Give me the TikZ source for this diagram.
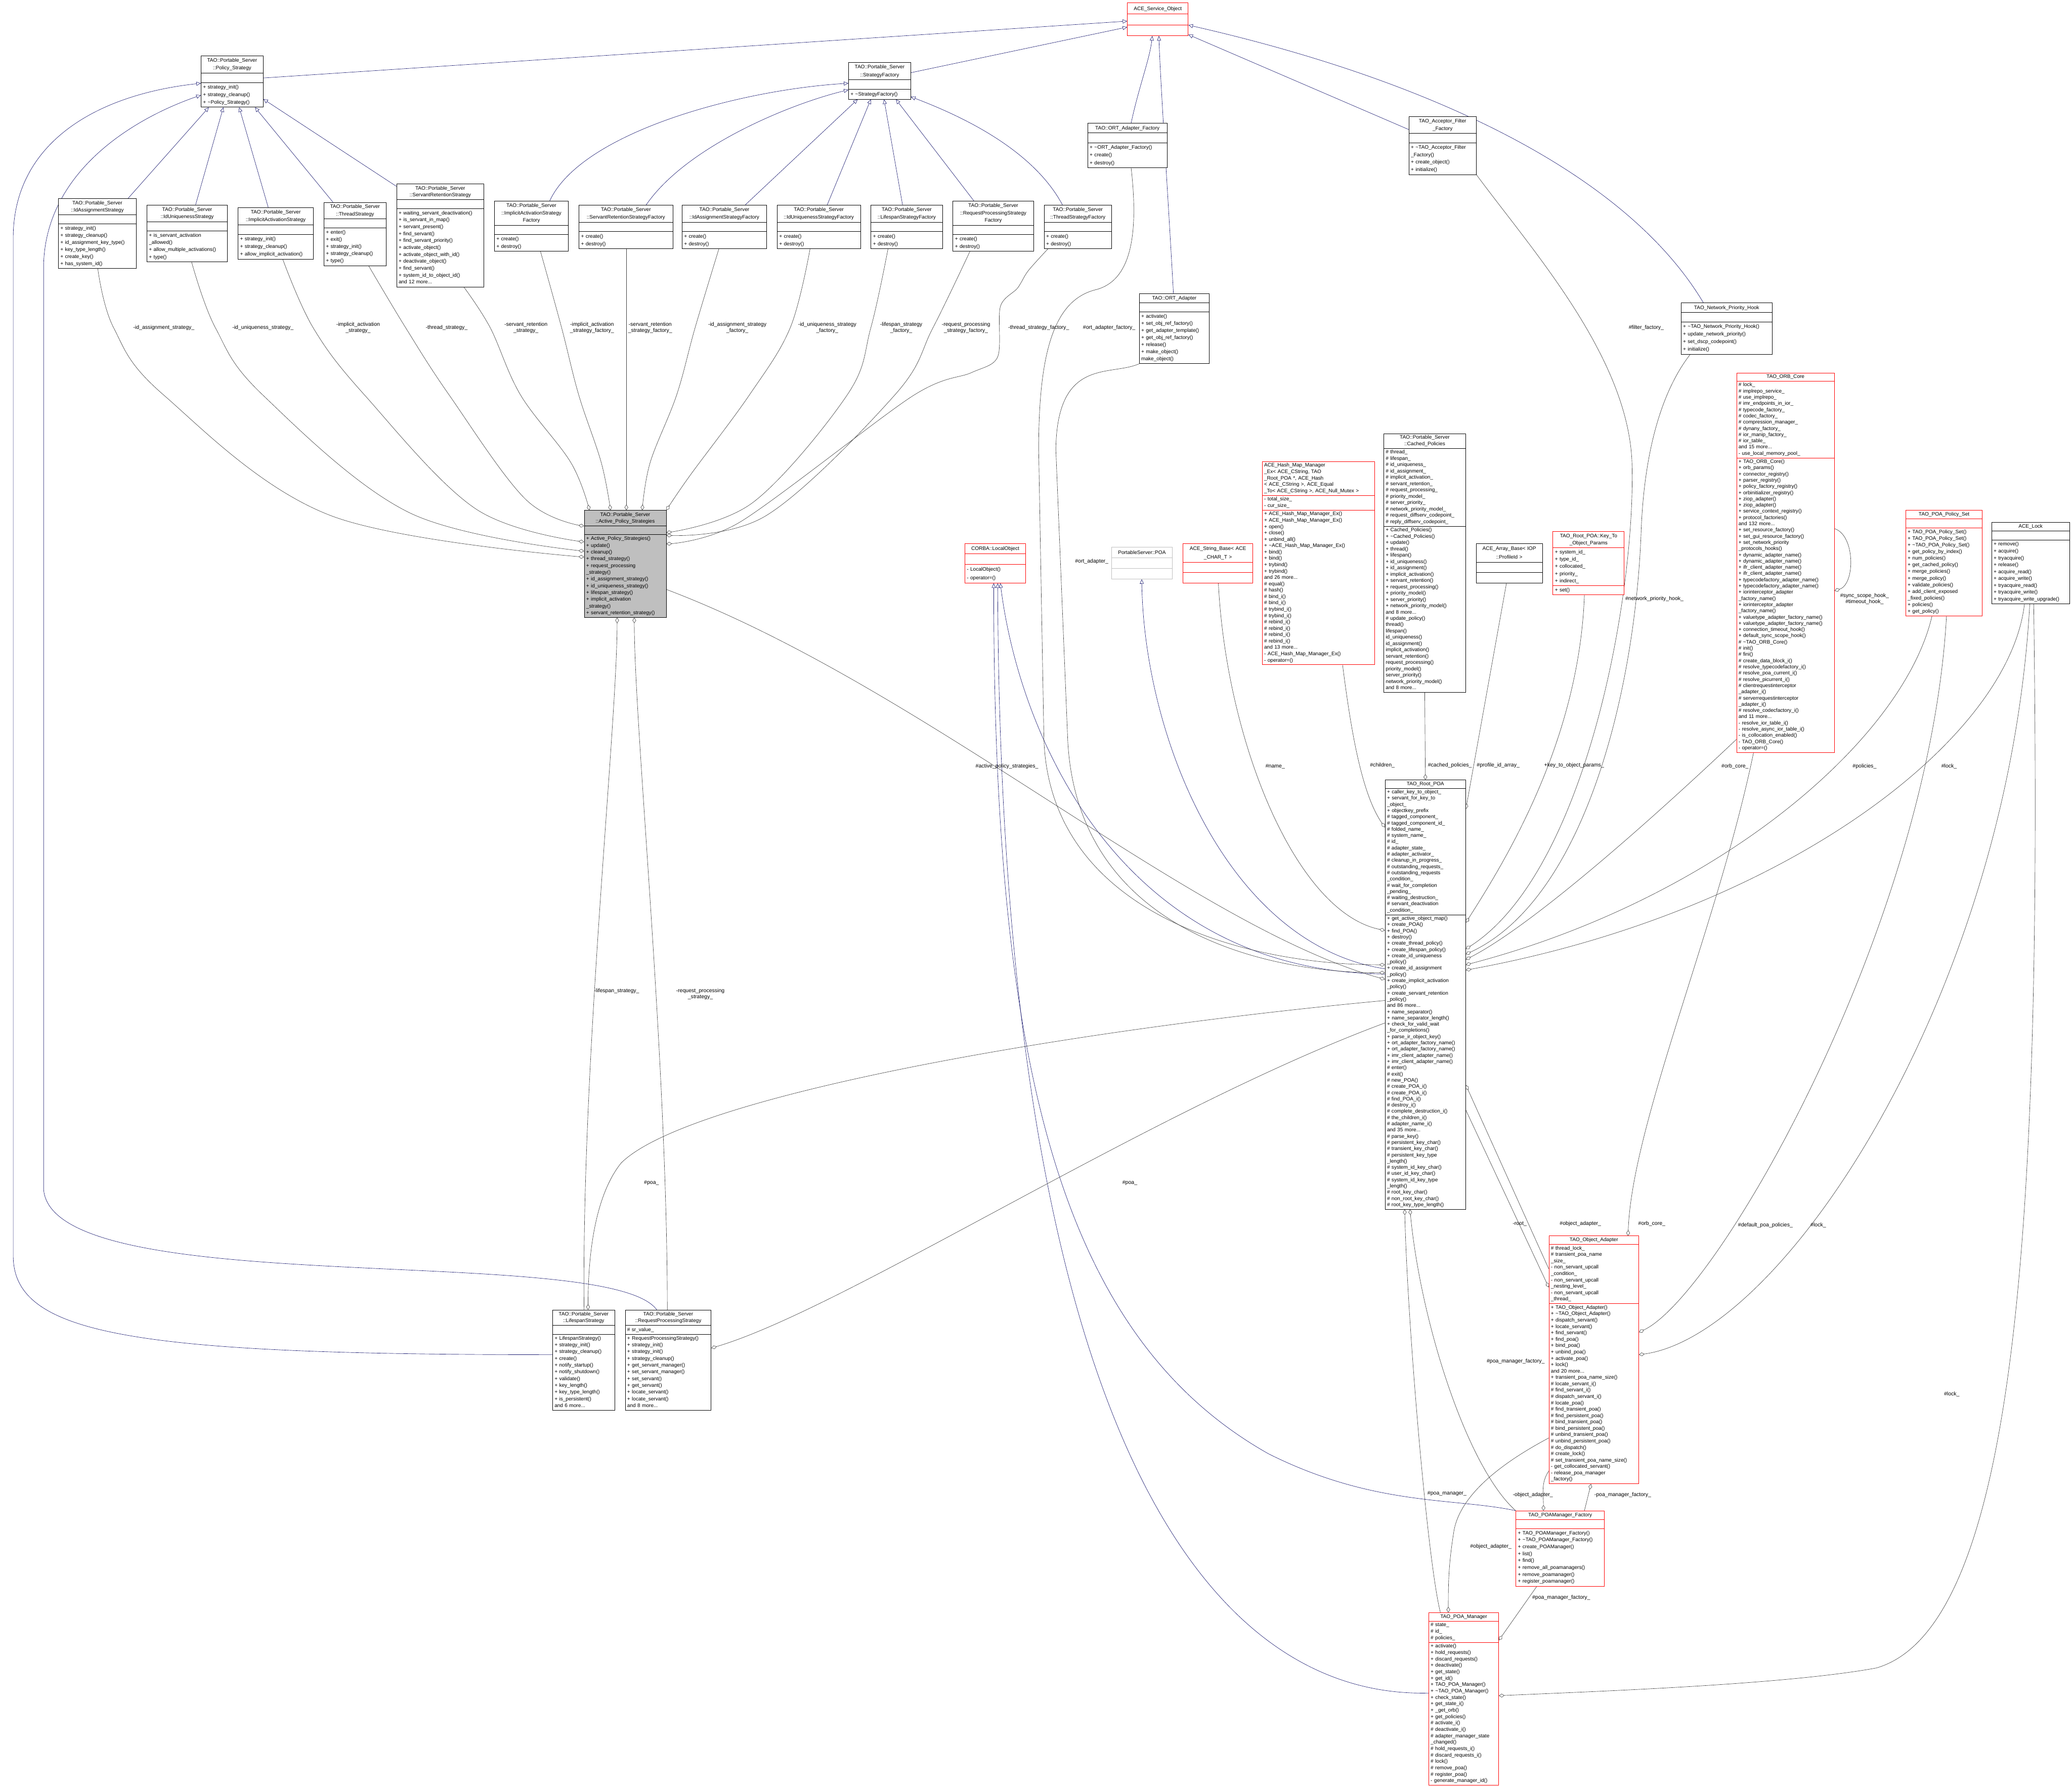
\documentclass[tikz,border=0pt]{standalone}
\usepackage{fontspec}
\setmainfont{Liberation Sans}
\usetikzlibrary{shapes.multipart,arrows.meta,calc,backgrounds}
\setlength{\parindent}{0pt}
\definecolor{inhc}{HTML}{191970}
\definecolor{aggc}{HTML}{404040}
\definecolor{grayfill}{HTML}{BFBFBF}
\tikzset{
  cls/.style={rectangle split, rectangle split parts=3, draw=black, line width=0.9pt,
    fill=white, anchor=north west, inner xsep=1.5mm, inner ysep=0.6mm, align=left},
  redcls/.style={cls, draw=red},
  greycls/.style={cls, draw=grayfill},
  selcls/.style={cls, fill=grayfill},
  inh/.style={draw=inhc, line width=0.7pt, -{Triangle[open,length=3.4mm,width=3mm]}},
  agg/.style={draw=aggc, line width=0.7pt, -{Diamond[open,length=4.2mm,width=2.8mm]}},
  lbl/.style={font={\fontsize{11.5}{13}\selectfont}, inner sep=0.5mm, align=center}
}
\newcommand\umlclass[8]{%
  \node[#1, text width=#4mm, font={\fontsize{11}{#5}\selectfont}] (#2) at (#3)
  {\parbox[t]{#4mm}{\centering\strut #6\strut}\nodepart{two}\strut #7\strut\nodepart{three}\strut #8\strut};}
\begin{document}
\begin{tikzpicture}[x=1mm,y=-1mm]
\useasboundingbox (0,0) rectangle (1568,1352);
% ---------------- nodes ----------------
\umlclass{redcls}{SO}{853,2}{43}{19.3}{ACE\_Service\_Object}{}{}
\umlclass{cls}{PS}{152,42}{44}{16.3}{TAO::Portable\_Server\\::Policy\_Strategy}{}{+ strategy\_init()\\+ strategy\_cleanup()\\+ \textasciitilde Policy\_Strategy()}
\umlclass{cls}{IdAS}{44,150}{56}{15.3}{TAO::Portable\_Server\\::IdAssignmentStrategy}{}{+ strategy\_init()\\+ strategy\_cleanup()\\+ id\_assignment\_key\_type()\\+ key\_type\_length()\\+ create\_key()\\+ has\_system\_id()}
\umlclass{cls}{IdUS}{111,155}{58}{15.6}{TAO::Portable\_Server\\::IdUniquenessStrategy}{}{+ is\_servant\_activation\\\_allowed()\\+ allow\_multiple\_activations()\\+ type()}
\umlclass{cls}{ImplAS}{180,157}{54}{16.3}{TAO::Portable\_Server\\::ImplicitActivationStrategy}{}{+ strategy\_init()\\+ strategy\_cleanup()\\+ allow\_implicit\_activation()}
\umlclass{cls}{ThrS}{245,153}{44}{15.4}{TAO::Portable\_Server\\::ThreadStrategy}{}{+ enter()\\+ exit()\\+ strategy\_init()\\+ strategy\_cleanup()\\+ type()}
\umlclass{cls}{SRS}{300,139}{63}{14.9}{TAO::Portable\_Server\\::ServantRetentionStrategy}{}{+ waiting\_servant\_deactivation()\\+ is\_servant\_in\_map()\\+ servant\_present()\\+ find\_servant()\\+ find\_servant\_priority()\\+ activate\_object()\\+ activate\_object\_with\_id()\\+ deactivate\_object()\\+ find\_servant()\\+ system\_id\_to\_object\_id()\\and 12 more...}
\umlclass{cls}{SF}{642,47}{44}{16.6}{TAO::Portable\_Server\\::StrategyFactory}{}{+ \textasciitilde StrategyFactory()}
\umlclass{cls}{IASF}{374,152}{53}{15.8}{TAO::Portable\_Server\\::ImplicitActivationStrategy\\Factory}{}{+ create()\\+ destroy()}
\umlclass{cls}{SRSF}{438,155}{68}{16.2}{TAO::Portable\_Server\\::ServantRetentionStrategyFactory}{}{+ create()\\+ destroy()}
\umlclass{cls}{IdASF}{516,155}{61}{16.2}{TAO::Portable\_Server\\::IdAssignmentStrategyFactory}{}{+ create()\\+ destroy()}
\umlclass{cls}{IdUSF}{588,155}{60}{16.2}{TAO::Portable\_Server\\::IdUniquenessStrategyFactory}{}{+ create()\\+ destroy()}
\umlclass{cls}{LSF}{659,155}{51}{16.2}{TAO::Portable\_Server\\::LifespanStrategyFactory}{}{+ create()\\+ destroy()}
\umlclass{cls}{RPSF}{721,152}{58}{15.8}{TAO::Portable\_Server\\::RequestProcessingStrategy\\Factory}{}{+ create()\\+ destroy()}
\umlclass{cls}{TSF}{790,155}{48}{16.2}{TAO::Portable\_Server\\::ThreadStrategyFactory}{}{+ create()\\+ destroy()}
\umlclass{cls}{ORTAF}{823,93}{57}{16.7}{TAO::ORT\_Adapter\_Factory}{}{+ \textasciitilde ORT\_Adapter\_Factory()\\+ create()\\+ destroy()}
\umlclass{cls}{ORTA}{862,222}{50}{15.3}{TAO::ORT\_Adapter}{}{+ activate()\\+ set\_obj\_ref\_factory()\\+ get\_adapter\_template()\\+ get\_obj\_ref\_factory()\\+ release()\\+ make\_object()\\* make\_object()}
\umlclass{cls}{AFF}{1066,88}{48}{16.0}{TAO\_Acceptor\_Filter\\\_Factory}{}{+ \textasciitilde TAO\_Acceptor\_Filter\\\_Factory()\\+ create\_object()\\+ initialize()}
\umlclass{cls}{NPH}{1272,229}{66}{16.3}{TAO\_Network\_Priority\_Hook}{}{+ \textasciitilde TAO\_Network\_Priority\_Hook()\\+ update\_network\_priority()\\+ set\_dscp\_codepoint()\\+ initialize()}
\umlclass{redcls}{ORB}{1314,282}{71}{13.4}{TAO\_ORB\_Core}{\# lock\_\\\# implrepo\_service\_\\\# use\_implrepo\_\\\# imr\_endpoints\_in\_ior\_\\\# typecode\_factory\_\\\# codec\_factory\_\\\# compression\_manager\_\\\# dynany\_factory\_\\\# ior\_manip\_factory\_\\\# ior\_table\_\\and 15 more...\\- use\_local\_memory\_pool\_}{+ TAO\_ORB\_Core()\\+ orb\_params()\\+ connector\_registry()\\+ parser\_registry()\\+ policy\_factory\_registry()\\+ orbinitializer\_registry()\\+ ziop\_adapter()\\+ ziop\_adapter()\\+ service\_context\_registry()\\+ protocol\_factories()\\and 132 more...\\+ set\_resource\_factory()\\+ set\_gui\_resource\_factory()\\+ set\_network\_priority\\\_protocols\_hooks()\\+ dynamic\_adapter\_name()\\+ dynamic\_adapter\_name()\\+ ifr\_client\_adapter\_name()\\+ ifr\_client\_adapter\_name()\\+ typecodefactory\_adapter\_name()\\+ typecodefactory\_adapter\_name()\\+ iorinterceptor\_adapter\\\_factory\_name()\\+ iorinterceptor\_adapter\\\_factory\_name()\\+ valuetype\_adapter\_factory\_name()\\+ valuetype\_adapter\_factory\_name()\\+ connection\_timeout\_hook()\\+ default\_sync\_scope\_hook()\\\# \textasciitilde TAO\_ORB\_Core()\\\# init()\\\# fini()\\\# create\_data\_block\_i()\\\# resolve\_typecodefactory\_i()\\\# resolve\_poa\_current\_i()\\\# resolve\_picurrent\_i()\\\# clientrequestinterceptor\\\_adapter\_i()\\\# serverrequestinterceptor\\\_adapter\_i()\\\# resolve\_codecfactory\_i()\\and 11 more...\\- resolve\_ior\_table\_i()\\- resolve\_async\_ior\_table\_i()\\- is\_collocation\_enabled()\\- TAO\_ORB\_Core()\\- operator=()}
\umlclass{redcls}{PSet}{1442,386}{55}{14.3}{TAO\_POA\_Policy\_Set}{}{+ TAO\_POA\_Policy\_Set()\\+ TAO\_POA\_Policy\_Set()\\+ \textasciitilde TAO\_POA\_Policy\_Set()\\+ get\_policy\_by\_index()\\+ num\_policies()\\+ get\_cached\_policy()\\+ merge\_policies()\\+ merge\_policy()\\+ validate\_policies()\\+ add\_client\_exposed\\\_fixed\_policies()\\+ policies()\\+ get\_policy()}
\umlclass{cls}{Lock}{1507,395}{56}{14.8}{ACE\_Lock}{}{+ remove()\\+ acquire()\\+ tryacquire()\\+ release()\\+ acquire\_read()\\+ acquire\_write()\\+ tryacquire\_read()\\+ tryacquire\_write()\\+ tryacquire\_write\_upgrade()}
\umlclass{selcls}{APS}{442,386}{59}{14.5}{TAO::Portable\_Server\\::Active\_Policy\_Strategies}{}{+ Active\_Policy\_Strategies()\\+ update()\\+ cleanup()\\+ thread\_strategy()\\+ request\_processing\\\_strategy()\\+ id\_assignment\_strategy()\\+ id\_uniqueness\_strategy()\\+ lifespan\_strategy()\\+ implicit\_activation\\\_strategy()\\+ servant\_retention\_strategy()}
\umlclass{redcls}{LO}{730,411}{43}{18.1}{CORBA::LocalObject}{}{- LocalObject()\\- operator=()}
\umlclass{greycls}{POA}{841,414}{43}{18.4}{PortableServer::POA}{}{}
\umlclass{redcls}{SB}{895,411}{50}{18.1}{ACE\_String\_Base< ACE\\\_CHAR\_T >}{}{}
\umlclass{redcls}{HM}{955,349}{82}{13.7}{\raggedright ACE\_Hash\_Map\_Manager\\\_Ex< ACE\_CString, TAO\\\_Root\_POA *, ACE\_Hash\\< ACE\_CString >, ACE\_Equal\\\_To< ACE\_CString >, ACE\_Null\_Mutex >}{- total\_size\_\\- cur\_size\_}{+ ACE\_Hash\_Map\_Manager\_Ex()\\+ ACE\_Hash\_Map\_Manager\_Ex()\\+ open()\\+ close()\\+ unbind\_all()\\+ \textasciitilde ACE\_Hash\_Map\_Manager\_Ex()\\+ bind()\\+ bind()\\+ trybind()\\+ trybind()\\and 26 more...\\\# equal()\\\# hash()\\\# bind\_i()\\\# bind\_i()\\\# trybind\_i()\\\# trybind\_i()\\\# rebind\_i()\\\# rebind\_i()\\\# rebind\_i()\\\# rebind\_i()\\and 13 more...\\- ACE\_Hash\_Map\_Manager\_Ex()\\- operator=()}
\umlclass{cls}{CP}{1047,328}{59}{13.6}{TAO::Portable\_Server\\::Cached\_Policies}{\# thread\_\\\# lifespan\_\\\# id\_uniqueness\_\\\# id\_assignment\_\\\# implicit\_activation\_\\\# servant\_retention\_\\\# request\_processing\_\\\# priority\_model\_\\\# server\_priority\_\\\# network\_priority\_model\_\\\# request\_diffserv\_codepoint\_\\\# reply\_diffserv\_codepoint\_}{+ Cached\_Policies()\\+ \textasciitilde Cached\_Policies()\\+ update()\\+ thread()\\+ lifespan()\\+ id\_uniqueness()\\+ id\_assignment()\\+ implicit\_activation()\\+ servant\_retention()\\+ request\_processing()\\+ priority\_model()\\+ server\_priority()\\+ network\_priority\_model()\\and 8 more...\\\# update\_policy()\\* thread()\\* lifespan()\\* id\_uniqueness()\\* id\_assignment()\\* implicit\_activation()\\* servant\_retention()\\* request\_processing()\\* priority\_model()\\* server\_priority()\\* network\_priority\_model()\\and 8 more...}
\umlclass{cls}{AB}{1117,411}{47}{18.1}{ACE\_Array\_Base< IOP\\::ProfileId >}{}{}
\umlclass{redcls}{KT}{1175,402}{51}{15.4}{TAO\_Root\_POA::Key\_To\\\_Object\_Params}{+ system\_id\_\\+ type\_id\_\\+ collocated\_\\+ priority\_\\+ indirect\_}{+ set()}
\umlclass{cls}{Root}{1048,590}{58}{13.4}{TAO\_Root\_POA}{+ caller\_key\_to\_object\_\\+ servant\_for\_key\_to\\\_object\_\\+ objectkey\_prefix\\\# tagged\_component\_\\\# tagged\_component\_id\_\\\# folded\_name\_\\\# system\_name\_\\\# id\_\\\# adapter\_state\_\\\# adapter\_activator\_\\\# cleanup\_in\_progress\_\\\# outstanding\_requests\_\\\# outstanding\_requests\\\_condition\_\\\# wait\_for\_completion\\\_pending\_\\\# waiting\_destruction\_\\\# servant\_deactivation\\\_condition\_}{+ get\_active\_object\_map()\\+ create\_POA()\\+ find\_POA()\\+ destroy()\\+ create\_thread\_policy()\\+ create\_lifespan\_policy()\\+ create\_id\_uniqueness\\\_policy()\\+ create\_id\_assignment\\\_policy()\\+ create\_implicit\_activation\\\_policy()\\+ create\_servant\_retention\\\_policy()\\and 86 more...\\+ name\_separator()\\+ name\_separator\_length()\\+ check\_for\_valid\_wait\\\_for\_completions()\\+ parse\_ir\_object\_key()\\+ ort\_adapter\_factory\_name()\\+ ort\_adapter\_factory\_name()\\+ imr\_client\_adapter\_name()\\+ imr\_client\_adapter\_name()\\\# enter()\\\# exit()\\\# new\_POA()\\\# create\_POA\_i()\\\# create\_POA\_i()\\\# find\_POA\_i()\\\# destroy\_i()\\\# complete\_destruction\_i()\\\# the\_children\_i()\\\# adapter\_name\_i()\\and 35 more...\\\# parse\_key()\\\# persistent\_key\_char()\\\# transient\_key\_char()\\\# persistent\_key\_type\\\_length()\\\# system\_id\_key\_char()\\\# user\_id\_key\_char()\\\# system\_id\_key\_type\\\_length()\\\# root\_key\_char()\\\# non\_root\_key\_char()\\\# root\_key\_type\_length()}
\umlclass{redcls}{OA}{1172,935}{65}{13.7}{TAO\_Object\_Adapter}{\# thread\_lock\_\\\# transient\_poa\_name\\\_size\_\\- non\_servant\_upcall\\\_condition\_\\- non\_servant\_upcall\\\_nesting\_level\_\\- non\_servant\_upcall\\\_thread\_}{+ TAO\_Object\_Adapter()\\+ \textasciitilde TAO\_Object\_Adapter()\\+ dispatch\_servant()\\+ locate\_servant()\\+ find\_servant()\\+ find\_poa()\\+ bind\_poa()\\+ unbind\_poa()\\+ activate\_poa()\\+ lock()\\and 20 more...\\+ transient\_poa\_name\_size()\\\# locate\_servant\_i()\\\# find\_servant\_i()\\\# dispatch\_servant\_i()\\\# locate\_poa()\\\# find\_transient\_poa()\\\# find\_persistent\_poa()\\\# bind\_transient\_poa()\\\# bind\_persistent\_poa()\\\# unbind\_transient\_poa()\\\# unbind\_persistent\_poa()\\\# do\_dispatch()\\\# create\_lock()\\\# set\_transient\_poa\_name\_size()\\- get\_collocated\_servant()\\- release\_poa\_manager\\\_factory()}
\umlclass{redcls}{POAMF}{1147,1143}{64}{14.9}{TAO\_POAManager\_Factory}{}{+ TAO\_POAManager\_Factory()\\+ \textasciitilde TAO\_POAManager\_Factory()\\+ create\_POAManager()\\+ list()\\+ find()\\+ remove\_all\_poamanagers()\\+ remove\_poamanager()\\+ register\_poamanager()}
\umlclass{redcls}{POAM}{1081,1220}{50}{13.8}{TAO\_POA\_Manager}{\# state\_\\\# id\_\\\# policies\_}{+ activate()\\+ hold\_requests()\\+ discard\_requests()\\+ deactivate()\\+ get\_state()\\+ get\_id()\\+ TAO\_POA\_Manager()\\+ \textasciitilde TAO\_POA\_Manager()\\+ check\_state()\\+ get\_state\_i()\\+ \_get\_orb()\\+ get\_policies()\\\# activate\_i()\\\# deactivate\_i()\\\# adapter\_manager\_state\\\_changed()\\\# hold\_requests\_i()\\\# discard\_requests\_i()\\\# lock()\\\# remove\_poa()\\\# register\_poa()\\- generate\_manager\_id()}
\umlclass{cls}{LS}{418,991}{44}{14.5}{TAO::Portable\_Server\\::LifespanStrategy}{}{+ LifespanStrategy()\\+ strategy\_init()\\+ strategy\_cleanup()\\+ create()\\+ notify\_startup()\\+ notify\_shutdown()\\+ validate()\\+ key\_length()\\+ key\_type\_length()\\+ is\_persistent()\\and 6 more...}
\umlclass{cls}{RPS}{473,991}{62}{14.5}{TAO::Portable\_Server\\::RequestProcessingStrategy}{\# sr\_value\_}{+ RequestProcessingStrategy()\\+ strategy\_init()\\+ strategy\_init()\\+ strategy\_cleanup()\\+ get\_servant\_manager()\\+ set\_servant\_manager()\\+ set\_servant()\\+ get\_servant()\\+ locate\_servant()\\+ locate\_servant()\\and 8 more...}
% ---------------- labels ----------------
\node[lbl] (l1) at (124,248) {-id\_assignment\_strategy\_};
\node[lbl] (l2) at (199,248) {-id\_uniqueness\_strategy\_};
\node[lbl] (l3) at (271,248) {-implicit\_activation\\\_strategy\_};
\node[lbl] (l4) at (338,248) {-thread\_strategy\_};
\node[lbl] (l5) at (398,248) {-servant\_retention\\\_strategy\_};
\node[lbl] (l6) at (448,248) {-implicit\_activation\\\_strategy\_factory\_};
\node[lbl] (l7) at (492,248) {-servant\_retention\\\_strategy\_factory\_};
\node[lbl] (l8) at (558,248) {-id\_assignment\_strategy\\\_factory\_};
\node[lbl] (l9) at (626,248) {-id\_uniqueness\_strategy\\\_factory\_};
\node[lbl] (l10) at (682,248) {-lifespan\_strategy\\\_factory\_};
\node[lbl] (l11) at (731,248) {-request\_processing\\\_strategy\_factory\_};
\node[lbl] (l12) at (786,248) {-thread\_strategy\_factory\_};
\node[lbl,anchor=west] (l13) at (819,248) {\#ort\_adapter\_factory\_};
\node[lbl,anchor=west] (l14) at (1232,248) {\#filter\_factory\_};
\node[lbl,anchor=west] (l15) at (813,425) {\#ort\_adapter\_};
\node[lbl] (l16) at (1252,453) {\#network\_priority\_hook\_};
\node[lbl,anchor=west] (l17) at (1392,453) {\#sync\_scope\_hook\_\\\#timeout\_hook\_};
\node[lbl] (l18) at (762,580) {\#active\_policy\_strategies\_};
\node[lbl] (l19) at (965,580) {\#name\_};
\node[lbl,anchor=east] (l20) at (1056,579) {\#children\_};
\node[lbl,anchor=west] (l21) at (1080,579) {\#cached\_policies\_};
\node[lbl,anchor=west] (l22) at (1117,579) {\#profile\_id\_array\_};
\node[lbl,anchor=west] (l23) at (1168,579) {+key\_to\_object\_params\_};
\node[lbl] (l24) at (1313,580) {\#orb\_core\_};
\node[lbl] (l25) at (1411,580) {\#policies\_};
\node[lbl] (l26) at (1475,580) {\#lock\_};
\node[lbl,anchor=west] (l27) at (449,750) {-lifespan\_strategy\_};
\node[lbl] (l28) at (530,752) {-request\_processing\\\_strategy\_};
\node[lbl] (l29) at (493,895) {\#poa\_};
\node[lbl] (l30) at (855,895) {\#poa\_};
\node[lbl] (l31) at (1150,926) {-root\_};
\node[lbl] (l32) at (1196,926) {\#object\_adapter\_};
\node[lbl] (l33) at (1250,926) {\#orb\_core\_};
\node[lbl] (l34) at (1336,927) {\#default\_poa\_policies\_};
\node[lbl] (l35) at (1376,927) {\#lock\_};
\node[lbl] (l36) at (1147,1030) {\#poa\_manager\_factory\_};
\node[lbl] (l37) at (1477,1055) {\#lock\_};
\node[lbl] (l38) at (1095,1130) {\#poa\_manager\_};
\node[lbl] (l39) at (1160,1131) {-object\_adapter\_};
\node[lbl] (l40) at (1228,1131) {-poa\_manager\_factory\_};
\node[lbl,anchor=west] (l41) at (1112,1170) {\#object\_adapter\_};
\node[lbl,anchor=west] (l42) at (1159,1209) {\#poa\_manager\_factory\_};
% ---------------- end points ----------------
\coordinate (s1) at ($(IdAS.south west)+(30,0)$);
\coordinate (s2) at ($(IdUS.south west)+(34,0)$);
\coordinate (s3) at ($(ImplAS.south west)+(34,0)$);
\coordinate (s4) at ($(ThrS.south west)+(34,0)$);
\coordinate (s5) at ($(SRS.south west)+(51,0)$);
\coordinate (s6) at ($(IASF.south west)+(35,0)$);
\coordinate (s7) at ($(SRSF.south west)+(36,0)$);
\coordinate (s8) at ($(IdASF.south west)+(28,0)$);
\coordinate (s9) at ($(IdUSF.south west)+(25,0)$);
\coordinate (s10) at ($(LSF.south west)+(13,0)$);
\coordinate (s11) at ($(RPSF.south west)+(13,0)$);
\coordinate (s12) at ($(TSF.south west)+(3,0)$);
\coordinate (t1) at ($(APS.north west)+(0,35.5)$);
\coordinate (t2) at ($(APS.north west)+(0,31)$);
\coordinate (t3) at ($(APS.north west)+(0,24)$);
\coordinate (t4) at ($(APS.north west)+(0,12)$);
\coordinate (t5) at ($(APS.north west)+(4,0)$);
\coordinate (t6) at ($(APS.north west)+(20,0)$);
\coordinate (t7) at ($(APS.north west)+(32,0)$);
\coordinate (t8) at ($(APS.north west)+(44,0)$);
\coordinate (t9) at (APS.north east);
\coordinate (t10) at ($(APS.north east)+(0,17)$);
\coordinate (t11) at ($(APS.north east)+(0,19)$);
\coordinate (t12) at ($(APS.north east)+(0,25.5)$);
% ---------------- connectors ----------------
\begin{scope}[on background layer]
\fill[white] (0,0) rectangle (1568,1352);
% inheritance
\draw[inh] ($(PS.north east)+(0,17)$) -- ($(SO.north west)+(0,14)$);
\draw[inh] ($(SF.north east)+(0,8)$) -- ($(SO.north west)+(0,18.5)$);
\draw[inh] ($(ORTAF.north west)+(33,0)$) .. controls (862,65) and (870,45) .. ($(SO.south west)+(19,0)$);
\draw[inh] ($(ORTA.north west)+(26,0)$) .. controls (884,150) and (878,60) .. ($(SO.south west)+(24,0)$);
\draw[inh] ($(AFF.north west)+(0,10)$) -- ($(SO.south east)+(0,-1)$);
\draw[inh] ($(NPH.north west)+(17,0)$) .. controls (1230,130) and (1080,60) .. ($(SO.north east)+(0,17)$);
\draw[inh] ($(IdAS.north west)+(53,0)$) -- ($(PS.south west)+(6,0)$);
\draw[inh] ($(IdUS.north west)+(37,0)$) -- ($(PS.south west)+(17,0)$);
\draw[inh] ($(ImplAS.north west)+(23,0)$) -- ($(PS.south west)+(29,0)$);
\draw[inh] ($(ThrS.north west)+(7,0)$) -- ($(PS.south west)+(41,0)$);
\draw[inh] ($(SRS.north west)+(0,2)$) -- ($(PS.north east)+(0,33)$);
\draw[inh] ($(LS.north west)+(0,34)$) .. controls (100,1025) and (10,1010) .. (10,950) -- (10,180) .. controls (10,110) and (70,72) .. ($(PS.north west)+(0,21)$);
\draw[inh] ($(RPS.north west)+(24,0)$) .. controls (460,940) and (40,985) .. (33,900) -- (33,200) .. controls (35,130) and (100,90) .. ($(PS.north west)+(0,30)$);
\draw[inh] ($(IASF.north west)+(42,0)$) .. controls (440,100) and (560,68) .. ($(SF.north west)+(0,16)$);
\draw[inh] ($(SRSF.north west)+(51,0)$) .. controls (520,110) and (600,78) .. ($(SF.north west)+(0,21)$);
\draw[inh] ($(IdASF.north west)+(48,0)$) -- ($(SF.south west)+(7,0)$);
\draw[inh] ($(IdUSF.north west)+(38,0)$) -- ($(SF.south west)+(17,0)$);
\draw[inh] ($(LSF.north west)+(24,0)$) -- ($(SF.south west)+(27,0)$);
\draw[inh] ($(RPSF.north west)+(16,0)$) -- ($(SF.south west)+(36,0)$);
\draw[inh] ($(TSF.north west)+(14,0)$) .. controls (780,110) and (720,85) .. ($(SF.south east)+(0,-2)$);
\draw[inh] ($(Root.north west)+(0,143)$) .. controls (930,715) and (866,560) .. ($(POA.south west)+(23,0)$);
\draw[inh] ($(Root.north west)+(0,147)$) .. controls (850,735) and (772,560) .. ($(LO.south west)+(27,0)$);
\draw[inh] (POAMF.north west) .. controls (1100,1133) and (1040,1140) .. (960,1100) .. controls (800,1010) and (752,800) .. ($(LO.south west)+(22,0)$);
\draw[inh] ($(POAM.north west)+(0,61)$) .. controls (900,1285) and (757,1050) .. ($(LO.south west)+(25,0)$);
% aggregation into Active_Policy_Strategies
\draw[agg] plot[smooth,tension=0.6] coordinates {(s1) (86,248) (124,299) (250,390) (t1)};
\draw[agg] plot[smooth,tension=0.6] coordinates {(s2) (163,248) (199,299) (310,388) (t2)};
\draw[agg] plot[smooth,tension=0.6] coordinates {(s3) (237,248) (276,299) (360,385) (t3)};
\draw[agg] plot[smooth,tension=0.6] coordinates {(s4) (307,248) (340,299) (398,378) (t4)};
\draw[agg] plot[smooth,tension=0.6] coordinates {(s5) (371,248) (394,299) (432,350) (t5)};
\draw[agg] plot[smooth,tension=0.6] coordinates {(s6) (425,248) (438,299) (455,350) (t6)};
\draw[agg] (s7) -- (t7);
\draw[agg] plot[smooth,tension=0.6] coordinates {(s8) (526,248) (512,299) (492,350) (t8)};
\draw[agg] plot[smooth,tension=0.6] coordinates {(s9) (598,248) (567,299) (522,360) (t9)};
\draw[agg] plot[smooth,tension=0.6] coordinates {(s10) (659,248) (641,299) (570,380) (t10)};
\draw[agg] plot[smooth,tension=0.6] coordinates {(s11) (706,248) (677,299) (580,390) (t11)};
\draw[agg] plot[smooth,tension=0.5] coordinates {(s12) (778,205) (770,218) (757,232) (755,270) (735,282) (690,300) (560,395) (t12)};
\draw[agg] ($(LS.north west)+(24,0)$) .. controls (440,800) and (467,550) .. ($(APS.south west)+(25,0)$);
\draw[agg] ($(RPS.north west)+(32,0)$) .. controls (505,800) and (480,550) .. ($(APS.south west)+(38,0)$);
% aggregation into / from Root_POA
\draw[agg] ($(APS.north east)+(0,60)$) .. controls (700,520) and (900,700) .. ($(Root.north west)+(0,151)$);
\draw[agg] ($(Root.north west)+(0,167)$) .. controls (800,780) and (520,830) .. (470,880) .. controls (450,905) and (445,950) .. ($(LS.north west)+(27,0)$);
\draw[agg] ($(Root.north west)+(0,184)$) .. controls (870,840) and (640,990) .. ($(RPS.north east)+(0,29)$);
\draw[agg] ($(ORTAF.south west)+(33,0)$) .. controls (862,180) and (855,212) .. (830,219) .. controls (800,226) and (786,260) .. (786,340) -- (790,560) .. controls (795,690) and (940,730) .. ($(Root.north west)+(0,140)$);
\draw[agg] (ORTA.south west) .. controls (840,285) and (800,270) .. (799,340) -- (808,560) .. controls (815,700) and (950,736) .. ($(Root.north west)+(0,146)$);
\draw[agg] ($(SB.south west)+(27,0)$) .. controls (928,560) and (980,690) .. ($(Root.north west)+(0,114)$);
\draw[agg] ($(HM.south west)+(61,0)$) .. controls (1022,550) and (1030,600) .. ($(Root.north west)+(0,36)$);
\draw[agg] (CP.south) -- (Root.north);
\draw[agg] ($(AB.south west)+(23,0)$) -- ($(Root.north east)+(0,22)$);
\draw[agg] ($(KT.south west)+(24,0)$) .. controls (1195,560) and (1140,650) .. ($(Root.north east)+(0,108)$);
\draw[agg] (AFF.south east) .. controls (1160,190) and (1232,270) .. (1235,350) .. controls (1238,450) and (1200,660) .. ($(Root.north east)+(0,128)$);
\draw[agg] ($(NPH.south west)+(7,0)$) .. controls (1262,290) and (1245,330) .. (1242,400) .. controls (1238,520) and (1200,680) .. ($(Root.north east)+(0,132)$);
\draw[agg] ($(ORB.south west)+(0,-10)$) .. controls (1250,620) and (1160,700) .. ($(Root.north east)+(0,136)$);
\draw[agg] ($(PSet.south west)+(20,0)$) .. controls (1440,560) and (1300,680) .. ($(Root.north east)+(0,140)$);
\draw[agg] ($(Lock.south west)+(25,0)$) .. controls (1520,560) and (1350,690) .. ($(Root.north east)+(0,144)$);
\draw[agg] ($(OA.north west)+(0,25)$) -- ($(Root.north east)+(0,231)$);
\draw[agg] ($(Root.north east)+(0,250)$) -- ($(OA.north west)+(0,39)$);
\draw[agg] ($(ORB.south west)+(13,0)$) .. controls (1300,700) and (1235,850) .. ($(OA.north west)+(60,0)$);
\draw[agg] ($(PSet.south west)+(31,0)$) .. controls (1460,700) and (1300,980) .. ($(OA.north east)+(0,73)$);
\draw[agg] ($(Lock.south west)+(29,0)$) .. controls (1520,750) and (1350,1010) .. ($(OA.north east)+(0,90)$);
\draw[agg] ($(Lock.south west)+(32,0)$) .. controls (1545,900) and (1530,1230) .. (1420,1262) .. controls (1350,1275) and (1200,1280) .. ($(POAM.north east)+(0,63)$);
\draw[agg] ($(ORB.north east)+(0,118)$) .. controls (1404,405) and (1404,442) .. ($(ORB.north east)+(0,165)$);
\draw[agg] ($(POAM.north west)+(9,0)$) .. controls (1080,1180) and (1065,1000) .. ($(Root.south west)+(15,0)$);
\draw[agg] (POAMF.north west) .. controls (1110,1110) and (1075,1000) .. ($(Root.south west)+(19,0)$);
\draw[agg] ($(OA.north west)+(0,178)$) .. controls (1166,1122) and (1168,1130) .. ($(POAMF.north west)+(21,0)$);
\draw[agg] ($(POAMF.north west)+(52,0)$) -- ($(OA.south west)+(32,0)$);
\draw[agg] ($(POAMF.south west)+(16,0)$) -- ($(POAM.north east)+(0,21)$);
\draw[agg] ($(OA.north west)+(0,153)$) .. controls (1140,1105) and (1104,1130) .. (1100,1160) .. controls (1096,1185) and (1096,1200) .. ($(POAM.north west)+(15,0)$);
\end{scope}
\end{tikzpicture}
\end{document}
